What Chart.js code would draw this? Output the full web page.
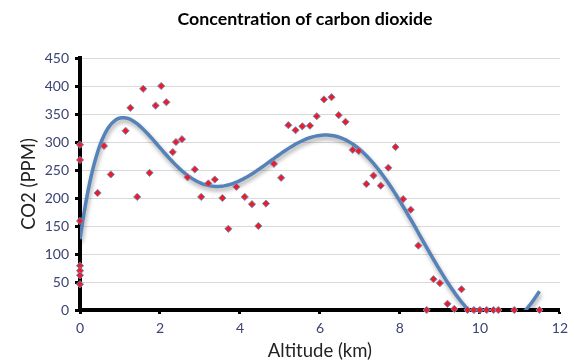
<!DOCTYPE html>
<html>
<head>
<meta charset="utf-8">
<script src="https://cdn.jsdelivr.net/npm/chart.js@4"></script>
<style>
  html, body { margin: 0; padding: 0; background: #fff; }
  #wrap { width: 574px; height: 362px; }
</style>
</head>
<body>
<div id="wrap"><canvas id="chart"></canvas></div>
<script>
// ── Data ──
const altitude = [
  0, 0, 0, 0, 0, 0, 0,
  0.44, 0.6, 0.77, 1.14, 1.26, 1.43, 1.58, 1.74, 1.89, 2.03,
  2.16, 2.32, 2.40, 2.55, 2.69, 2.87, 3.03, 3.21, 3.37, 3.56,
  3.71, 3.91, 4.12, 4.30, 4.46, 4.65, 4.85, 5.03, 5.21, 5.39,
  5.56, 5.75, 5.92, 6.10, 6.29, 6.47, 6.64, 6.82, 6.97, 7.16,
  7.34, 7.52, 7.71, 7.89, 8.08, 8.27, 8.46, 8.67, 8.84, 9.0,
  9.19, 9.36, 9.54, 9.69, 9.85, 10.0, 10.17, 10.34, 10.46, 10.86,
  11.49
];
const co2 = [
  295, 268, 159, 79, 70, 62, 46,
  209, 293, 242, 320, 361, 202, 395, 245, 365, 400,
  371, 282, 300, 305, 237, 251, 202, 226, 233, 200,
  145, 220, 202, 189, 150, 190, 261, 236, 330, 321,
  328, 329, 346, 376, 380, 348, 336, 286, 284, 225,
  240, 222, 254, 291, 198, 179, 115, 0, 55, 48,
  11, 2, 37, 0, 0, 0, 0, 0, 0, 0,
  0
];
const xTicks = [0, 2, 4, 6, 8, 10, 12];
const yTicks = [0, 50, 100, 150, 200, 250, 300, 350, 400, 450];
const trendOrder = 6;
const chartTitle = 'Concentration of carbon dioxide';

// ── Polynomial trendline (least squares, like a spreadsheet trendline) ──
function polyFit(xs, ys, order) {
  const s = 12; // scale x for conditioning
  const n = order + 1;
  const A = Array.from({ length: n }, () => new Array(n + 1).fill(0));
  xs.forEach((x, k) => {
    const xv = x / s;
    for (let i = 0; i < n; i++) {
      for (let j = 0; j < n; j++) A[i][j] += Math.pow(xv, i + j);
      A[i][n] += ys[k] * Math.pow(xv, i);
    }
  });
  for (let c = 0; c < n; c++) {
    let p = c;
    for (let r = c + 1; r < n; r++) if (Math.abs(A[r][c]) > Math.abs(A[p][c])) p = r;
    [A[c], A[p]] = [A[p], A[c]];
    for (let r = 0; r < n; r++) {
      if (r === c) continue;
      const f = A[r][c] / A[c][c];
      for (let k = c; k <= n; k++) A[r][k] -= f * A[c][k];
    }
  }
  const coef = A.map((row, i) => row[n] / row[i]);
  return x => coef.reduce((sum, c, i) => sum + c * Math.pow(x / s, i), 0);
}

const fit = polyFit(altitude, co2, trendOrder);
const xMax = Math.max(...altitude);
const trend = [];
for (let i = 0; i <= 230; i++) {
  const x = xMax * i / 230;
  trend.push({ x, y: fit(x) });
}
const points = altitude.map((x, i) => ({ x, y: co2[i] }));

// ── Line shadow ──
const shadowPlugin = {
  id: 'lineShadow',
  beforeDatasetDraw(chart, args) {
    if (args.index !== 0) return;
    const ctx = chart.ctx;
    ctx.save();
    ctx.shadowColor = 'rgba(0,0,0,0.35)';
    ctx.shadowBlur = 4;
    ctx.shadowOffsetX = 1;
    ctx.shadowOffsetY = 3;
  },
  afterDatasetDraw(chart, args) {
    if (args.index !== 0) return;
    chart.ctx.restore();
  }
};

// ── Title sits a little right of the canvas centre in the reference ──
const titlePlugin = {
  id: 'offsetTitle',
  afterDraw(chart) {
    const ctx = chart.ctx;
    ctx.save();
    ctx.font = "bold 17.8px Lato";
    ctx.fillStyle = '#000';
    ctx.textAlign = 'center';
    ctx.textBaseline = 'middle';
    ctx.fillText(chartTitle, 305, 19);
    ctx.restore();
  }
};

const tickColor = '#3d4373';

new Chart(document.getElementById('chart'), {
  type: 'scatter',
  data: {
    datasets: [
      {
        type: 'line',
        data: trend,
        borderColor: '#5582b8',
        borderWidth: 3.5,
        pointRadius: 0,
        tension: 0,
        clip: 0,
        order: 2,
      },
      {
        data: points,
        pointStyle: 'rectRot',
        pointRadius: 3.6,
        backgroundColor: '#ee1c25',
        borderColor: '#6f8fc4',
        borderWidth: 1,
        clip: false,
        order: 1,
      }
    ]
  },
  plugins: [shadowPlugin, titlePlugin],
  options: {
    responsive: true,
    maintainAspectRatio: false,
    animation: false,
    layout: { padding: { left: 0, right: 11, top: 58, bottom: 0 } },
    plugins: {
      legend: { display: false },
      tooltip: { enabled: false },
      title: { display: false },
    },
    scales: {
      x: {
        type: 'linear',
        min: 0, max: 12,
        afterBuildTicks: s => { s.ticks = xTicks.map(v => ({ value: v })); },
        afterFit: s => { s.height = 52; },
        border: { color: '#000', width: 4 },
        grid: { drawOnChartArea: false, drawTicks: true, tickLength: 4, tickColor: '#000', tickWidth: 3 },
        ticks: { color: tickColor, font: { family: 'Lato', size: 14 }, padding: 6 },
        title: {
          display: true, text: 'Altitude (km)', color: '#222',
          font: { family: 'Lato', size: 18.5 }, padding: { top: 0, bottom: 0 },
        },
      },
      y: {
        min: 0, max: 450,
        afterBuildTicks: s => { s.ticks = yTicks.map(v => ({ value: v })); },
        afterFit: s => { s.width = 80; },
        border: { color: '#000', width: 4 },
        grid: { color: '#d9d9d9', lineWidth: 1, drawTicks: true, tickLength: 5, tickColor: '#000', tickWidth: 3 },
        ticks: { color: tickColor, font: { family: 'Lato', size: 14 }, padding: 6 },
        title: {
          display: true, text: 'CO2 (PPM)', color: '#222',
          font: { family: 'Lato', size: 18.5 }, padding: { top: 18, bottom: 4 },
        },
      },
    },
  },
});
</script>
</body>
</html>
